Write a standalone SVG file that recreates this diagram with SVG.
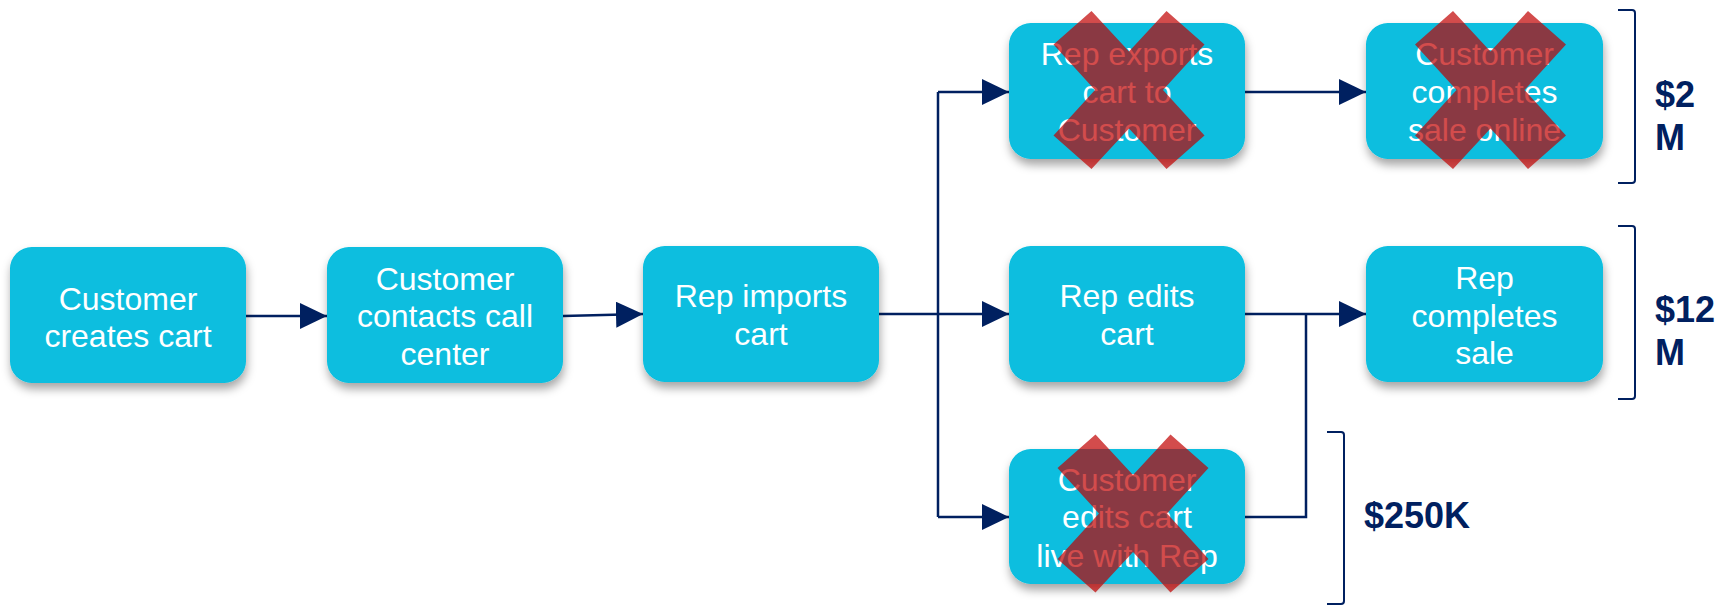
<svg xmlns="http://www.w3.org/2000/svg" width="1721" height="607" viewBox="0 0 1721 607">
  <style>
    .box { fill: #07BEDF; filter: url(#shadow); }
    .label { font-family: "Liberation Sans", Arial, sans-serif; font-size: 32px; fill: #FFFFFF; text-anchor: middle; }
    .amount { font-family: "Liberation Sans", Arial, sans-serif; font-size: 36px; font-weight: bold; fill: #002060; }
    .wire { fill: none; stroke: #002060; stroke-width: 2.5; }
    .arrow { marker-end: url(#head); }
    .bracket { fill: none; stroke: #002060; stroke-width: 2; }
    .cross { fill: #C00000; fill-opacity: 0.7; }
  </style>
  <defs>
    <filter id="shadow" x="-10%" y="-10%" width="125%" height="135%">
      <feDropShadow dx="1" dy="6" stdDeviation="5" flood-color="#000000" flood-opacity="0.35"/>
    </filter>
    <marker id="head" markerUnits="userSpaceOnUse" markerWidth="28" markerHeight="28" refX="27" refY="13" orient="auto">
      <path d="M0,0 L27,13 L0,26 Z" fill="#002060"/>
    </marker>
    <!-- cancel mark, centred on the origin -->
    <path id="cross" d="M-37.5,-79 L0,-38.5 L37.5,-79 L75.5,-45.5 L34,0 L75.5,45.5 L37.5,79 L0,38.5 L-37.5,79 L-75.5,45.5 L-34,0 L-75.5,-45.5 Z"/>
  </defs>

  <rect width="1721" height="607" fill="#FFFFFF"/>

  <!-- connectors -->
  <g id="connectors">
    <path class="wire arrow" d="M246,316 H327"/>
    <path class="wire arrow" d="M563,316 L643,314"/>
    <path class="wire arrow" d="M879,314 H1009"/>
    <path class="wire" d="M938,92 V517"/>
    <path class="wire arrow" d="M938,92 H1009"/>
    <path class="wire arrow" d="M938,517 H1009"/>
    <path class="wire arrow" d="M1245,92 H1366"/>
    <path class="wire arrow" d="M1245,314 H1366"/>
    <path class="wire" d="M1245,517 H1306 V314"/>
  </g>

  <!-- process steps -->
  <g id="customer-creates-cart">
    <rect class="box" x="10" y="247" width="236" height="136" rx="22"/>
    <text class="label" x="128"><tspan x="128" y="310">Customer</tspan><tspan x="128" y="347">creates cart</tspan></text>
  </g>
  <g id="customer-contacts-call-center">
    <rect class="box" x="327" y="247" width="236" height="136" rx="22"/>
    <text class="label"><tspan x="445" y="290">Customer</tspan><tspan x="445" y="327">contacts call</tspan><tspan x="445" y="365">center</tspan></text>
  </g>
  <g id="rep-imports-cart">
    <rect class="box" x="643" y="246" width="236" height="136" rx="22"/>
    <text class="label"><tspan x="761" y="307">Rep imports</tspan><tspan x="761" y="345">cart</tspan></text>
  </g>
  <g id="rep-exports-cart">
    <rect class="box" x="1009" y="23" width="236" height="136" rx="22"/>
    <text class="label"><tspan x="1127" y="65">Rep exports</tspan><tspan x="1127" y="103">cart to</tspan><tspan x="1127" y="141">Customer</tspan></text>
    <use href="#cross" class="cross" x="1129" y="90"/>
  </g>
  <g id="customer-completes-sale-online">
    <rect class="box" x="1366" y="23" width="237" height="136" rx="22"/>
    <text class="label"><tspan x="1484.5" y="65">Customer</tspan><tspan x="1484.5" y="103">completes</tspan><tspan x="1484.5" y="141">sale online</tspan></text>
    <use href="#cross" class="cross" x="1490.5" y="90"/>
  </g>
  <g id="rep-edits-cart">
    <rect class="box" x="1009" y="246" width="236" height="136" rx="22"/>
    <text class="label"><tspan x="1127" y="307">Rep edits</tspan><tspan x="1127" y="345">cart</tspan></text>
  </g>
  <g id="rep-completes-sale">
    <rect class="box" x="1366" y="246" width="237" height="136" rx="22"/>
    <text class="label"><tspan x="1484.5" y="289">Rep</tspan><tspan x="1484.5" y="327">completes</tspan><tspan x="1484.5" y="364">sale</tspan></text>
  </g>
  <g id="customer-edits-cart-live">
    <rect class="box" x="1009" y="449" width="236" height="135" rx="22"/>
    <text class="label"><tspan x="1127" y="491">Customer</tspan><tspan x="1127" y="528">edits cart</tspan><tspan x="1127" y="567">live with Rep</tspan></text>
    <use href="#cross" class="cross" x="1133" y="513.5"/>
  </g>

  <!-- revenue brackets -->
  <g id="online-revenue">
    <path class="bracket" d="M1618,10 H1632 Q1635,10 1635,13 V180 Q1635,183 1632,183 H1618"/>
    <text class="amount"><tspan x="1655" y="107">$2</tspan><tspan x="1655" y="150">M</tspan></text>
  </g>
  <g id="rep-revenue">
    <path class="bracket" d="M1618,226 H1632 Q1635,226 1635,229 V396 Q1635,399 1632,399 H1618"/>
    <text class="amount"><tspan x="1655" y="322">$12</tspan><tspan x="1655" y="365">M</tspan></text>
  </g>
  <g id="live-revenue">
    <path class="bracket" d="M1327,432 H1341 Q1344,432 1344,435 V601 Q1344,604 1341,604 H1327"/>
    <text class="amount" x="1364" y="528">$250K</text>
  </g>
</svg>
